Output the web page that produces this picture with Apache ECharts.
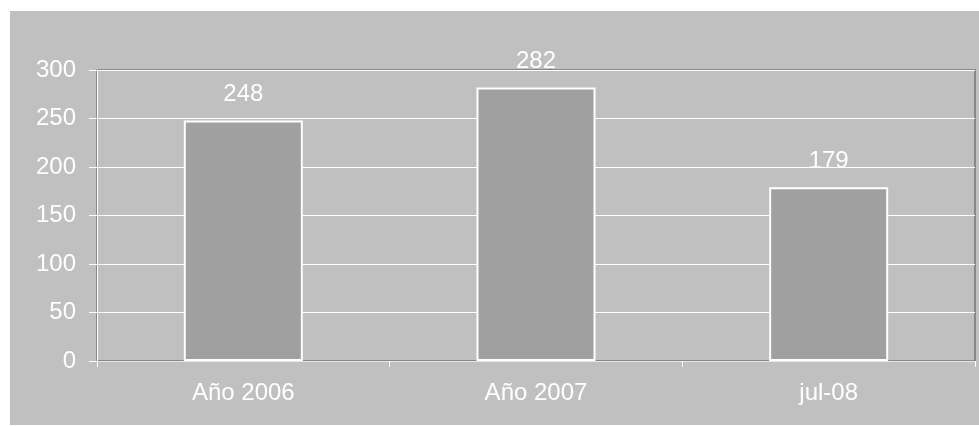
<!DOCTYPE html>
<html><head><meta charset="utf-8">
<script src="https://cdn.jsdelivr.net/npm/echarts@6/dist/echarts.min.js"></script>
<style>html,body{margin:0;padding:0;background:#fff}#c{width:979px;height:426px}</style>
</head><body><div id="c"></div>
<script>
const categories = ['Año 2006', 'Año 2007', 'jul-08'];
const values = [248, 282, 179];
const yTicks = [0, 50, 100, 150, 200, 250, 300];

const chart = echarts.init(document.getElementById('c'), null, {renderer: 'canvas'});
const font = '"Liberation Sans", Arial, sans-serif';
chart.setOption({
  backgroundColor: '#ffffff',
  animation: false,
  graphic: [{type: 'rect', left: 10, top: 11, shape: {width: 969, height: 414}, style: {fill: '#c0c0c0'}, z: -10}],
  grid: {left: 97, right: 4, top: 70, bottom: 65, show: true, backgroundColor: '#c0c0c0', borderColor: '#888888', borderWidth: 2},
  xAxis: {
    type: 'category', data: categories,
    axisLine: {lineStyle: {color: '#e6e6e6', width: 1}},
    axisTick: {show: true, length: 6, lineStyle: {color: '#ffffff'}},
    axisLabel: {color: '#ffffff', fontSize: 24, fontFamily: font, margin: 20}
  },
  yAxis: {
    type: 'value', min: yTicks[0], max: yTicks[yTicks.length - 1], interval: 50,
    axisLine: {show: true, lineStyle: {color: '#ffffff', width: 1}},
    axisTick: {show: true, length: 8, lineStyle: {color: '#ffffff'}},
    axisLabel: {color: '#ffffff', fontSize: 24, fontFamily: font, margin: 21},
    splitLine: {show: true, lineStyle: {color: '#ffffff', width: 1}}
  },
  series: [{
    type: 'bar', data: values, barWidth: 119,
    itemStyle: {color: '#a0a0a0', borderColor: '#ffffff', borderWidth: 2},
    label: {show: true, position: 'top', distance: 14, color: '#ffffff', fontSize: 24, fontFamily: font}
  }]
});
</script></body></html>
